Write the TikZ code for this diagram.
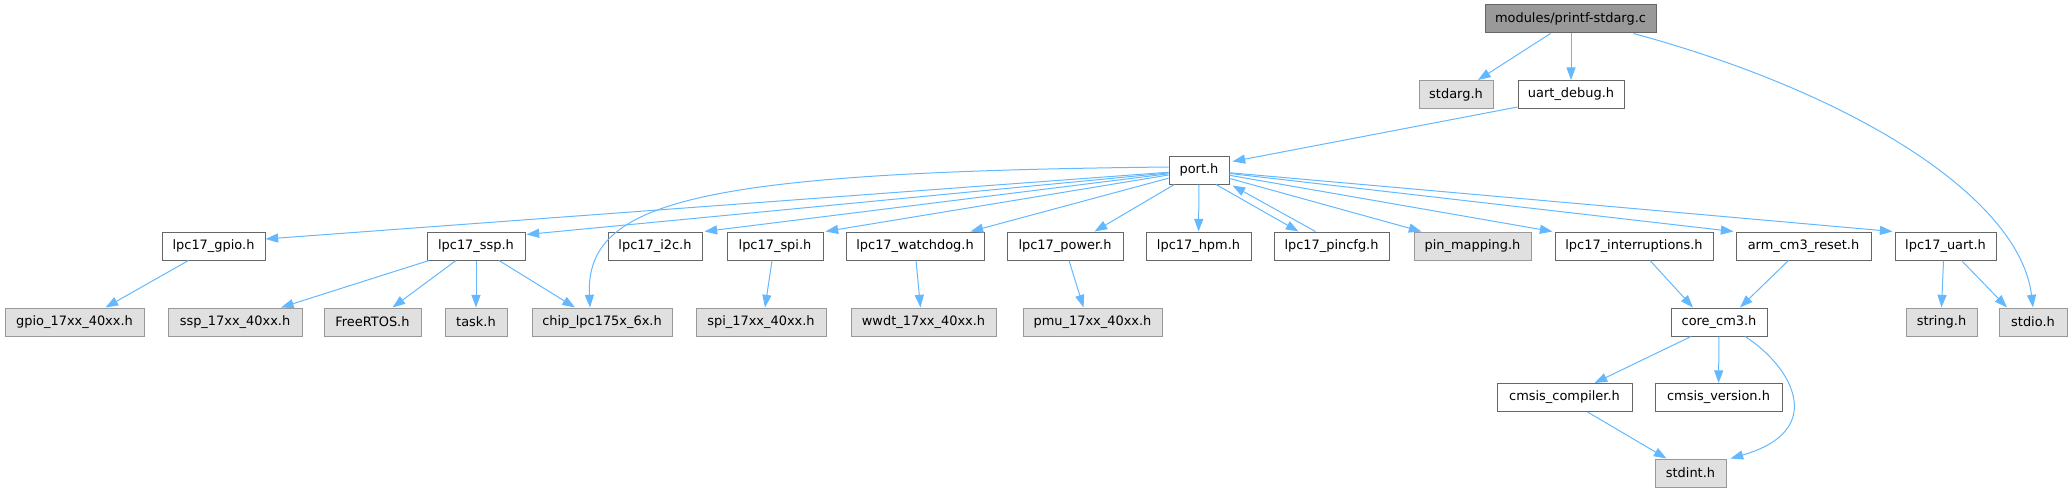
\documentclass[tikz,border=0pt]{standalone}
\usepackage{fontspec}
\setmainfont{DejaVu Sans}
\usetikzlibrary{calc,arrows.meta}
\definecolor{edgec}{HTML}{63B8FF}
\definecolor{bord}{HTML}{666666}
\definecolor{gbord}{HTML}{999999}
\definecolor{gfill}{HTML}{E0E0E0}
\definecolor{rfill}{HTML}{999999}
\begin{document}
\begin{tikzpicture}[x=0.75pt,y=-0.75pt,
  hfile/.style={draw=bord, fill=white, line width=0.75pt, minimum height=21pt, inner sep=0pt, font=\fontsize{9.7}{11}\selectfont, text=black},
  sysfile/.style={hfile, draw=gbord, fill=gfill},
  rootfile/.style={hfile, fill=rfill},
  bw/.style={minimum width=#1*0.75pt},
  dep/.style={draw=edgec, line width=0.75pt, -{Triangle[length=9.5pt,width=6.8pt]}}]
\useasboundingbox (0,0) rectangle (2072,492);
% row 0-2
\node[rootfile,bw=171] (printf) at (1570.5,19) {modules/printf-stdarg.c};
\node[sysfile,bw=74] (stdarg) at (1456,94.5) {stdarg.h};
\node[hfile,bw=106] (udbg) at (1571,94.5) {uart\_debug.h};
\node[hfile,bw=60] (port) at (1199,170) {port.h};
% row 3
\node[hfile,bw=103] (gpio) at (213.5,246) {lpc17\_gpio.h};
\node[hfile,bw=98] (ssp) at (476,246) {lpc17\_ssp.h};
\node[hfile,bw=94] (i2c) at (655,246) {lpc17\_i2c.h};
\node[hfile,bw=96] (spi) at (775,246) {lpc17\_spi.h};
\node[hfile,bw=138] (wdog) at (915,246) {lpc17\_watchdog.h};
\node[hfile,bw=116] (power) at (1065,246) {lpc17\_power.h};
\node[hfile,bw=105] (hpm) at (1198.5,246) {lpc17\_hpm.h};
\node[hfile,bw=115] (pincfg) at (1331.5,246) {lpc17\_pincfg.h};
\node[sysfile,bw=117] (pinmap) at (1472.5,246) {pin\_mapping.h};
\node[hfile,bw=158] (irq) at (1634,246) {lpc17\_interruptions.h};
\node[hfile,bw=135] (arm) at (1803.5,246) {arm\_cm3\_reset.h};
\node[hfile,bw=101] (uart) at (1945.5,246) {lpc17\_uart.h};
% row 4
\node[sysfile,bw=139] (gpio17) at (74.5,322) {gpio\_17xx\_40xx.h};
\node[sysfile,bw=134] (ssp17) at (235,322) {ssp\_17xx\_40xx.h};
\node[sysfile,bw=97] (freertos) at (372.5,322) {FreeRTOS.h};
\node[sysfile,bw=62] (task) at (476,322) {task.h};
\node[sysfile,bw=140] (chip) at (602,322) {chip\_lpc175x\_6x.h};
\node[sysfile,bw=130] (spi17) at (761,322) {spi\_17xx\_40xx.h};
\node[sysfile,bw=145] (wwdt) at (923.5,322) {wwdt\_17xx\_40xx.h};
\node[sysfile,bw=139] (pmu) at (1092.5,322) {pmu\_17xx\_40xx.h};
\node[hfile,bw=96] (core) at (1719,322) {core\_cm3.h};
\node[sysfile,bw=71] (string) at (1941.5,322) {string.h};
\node[sysfile,bw=68] (stdio) at (2033,322) {stdio.h};
% row 5-6
\node[hfile,bw=135] (cmsisc) at (1564.5,397.5) {cmsis\_compiler.h};
\node[hfile,bw=127] (cmsisv) at (1718.5,397.5) {cmsis\_version.h};
\node[sysfile,bw=71] (stdint) at (1690.5,473) {stdint.h};
% edges from root
\draw[dep] ($(printf.south)+(-20,0)$) -- ($(stdarg.north)+(22,0)$);
\draw[dep] (udbg.north |- printf.south) -- (udbg.north);
\draw[dep] ($(printf.south)+(63,0)$) .. controls (1860,95) and (2020,200) .. (stdio.north);
\draw[dep] ($(udbg.south west)+(0,-2)$) -- ($(port.north east)+(3,6)$);
% port fan
\draw[dep] (port) -- ($(gpio.east)+(0,-7)$);
\draw[dep] (port) -- ($(ssp.north east)+(1,3)$);
\draw[dep] ($(port.west)+(0,-3)$) .. controls (700,172) and (585,200) .. ($(chip.north)+(-12,0)$);
\draw[dep] (port) -- ($(i2c.north east)+(2,0)$);
\draw[dep] (port) -- ($(spi.north east)+(2,0)$);
\draw[dep] (port) -- ($(wdog.north east)+(-14,0)$);
\draw[dep] (port) -- ($(power.north east)+(-29,0)$);
\draw[dep] (port) -- (hpm);
\draw[dep] ($(port.south)+(17,0)$) -- ($(pincfg.north)+(-33,0)$);
\draw[dep] ($(pincfg.north)+(-16,0)$) -- ($(port.south east)+(3,1)$);
\draw[dep] (port) -- ($(pinmap.north west)+(8,0)$);
\draw[dep] (port) -- ($(irq.north west)+(-2,0)$);
\draw[dep] (port) -- ($(arm.north west)+(-2,0)$);
\draw[dep] (port) -- ($(uart.north west)+(-2,0)$);
% row 3 -> row 4
\draw[dep] ($(gpio.south)+(-25,0)$) -- ($(gpio17.north)+(31,0)$);
\draw[dep] ($(ssp.south)+(-47,0)$) -- ($(ssp17.north)+(46,0)$);
\draw[dep] ($(ssp.south)+(-20,0)$) -- ($(freertos.north)+(20,0)$);
\draw[dep] (ssp) -- (task);
\draw[dep] ($(ssp.south)+(23,0)$) -- ($(chip.north)+(-27,0)$);
\draw[dep] ($(spi.south)+(-3,0)$) -- ($(spi17.north)+(4,0)$);
\draw[dep] ($(wdog.south)+(1,0)$) -- ($(wwdt.north)+(-3,0)$);
\draw[dep] ($(power.south)+(4,0)$) -- ($(pmu.north)+(-9,0)$);
\draw[dep] ($(irq.south)+(16,0)$) -- ($(core.north)+(-26,0)$);
\draw[dep] ($(arm.south)+(-15,0)$) -- ($(core.north)+(21,0)$);
\draw[dep] ($(uart.south)+(-2,0)$) -- ($(string.north)+(0,0)$);
\draw[dep] ($(uart.south)+(16,0)$) -- ($(stdio.north)+(-26,0)$);
% row 4 -> 5 -> 6
\draw[dep] ($(core.south)+(-28,0)$) -- ($(cmsisc.north)+(30,0)$);
\draw[dep] (core) -- (cmsisv);
\draw[dep] ($(core.south)+(26,0)$) .. controls (1790,365) and (1830,430) .. ($(stdint.north east)+(4,0)$);
\draw[dep] ($(cmsisc.south)+(23,0)$) -- ($(stdint.north)+(-24,0)$);
\end{tikzpicture}
\end{document}
